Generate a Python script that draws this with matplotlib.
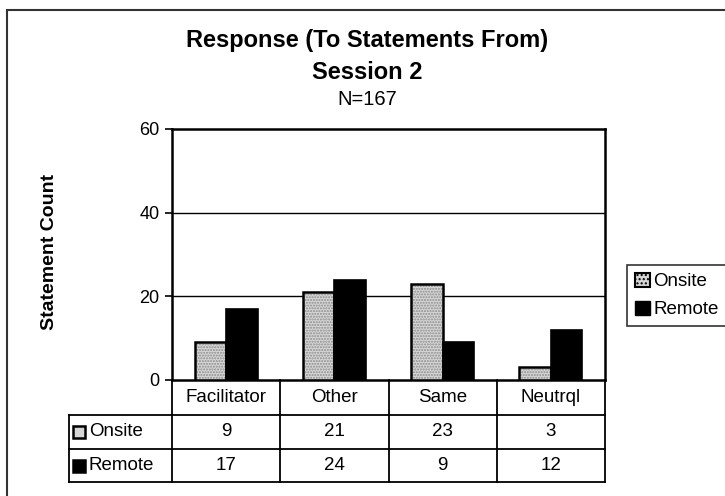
import matplotlib.pyplot as plt
import numpy as np
from matplotlib.patches import Patch, Rectangle

# datos
categories = ["Facilitator", "Other", "Same", "Neutrql"]
series_names = ["Onsite", "Remote"]
onsite = [9, 21, 23, 3]
remote = [17, 24, 9, 12]
y_ticks = [0, 20, 40, 60]

title_lines = ["Response (To Statements From)", "Session 2"]
subtitle = "N=167"
y_label = "Statement Count"

plt.rcParams["font.family"] = ["Liberation Sans", "DejaVu Sans"]

W, H = 725, 496
fig = plt.figure(figsize=(W / 100, H / 100), dpi=100)

# ejes en pixeles de la imagen de referencia
px_left, px_right, px_top, px_bottom = 172, 605, 129, 380
ax = fig.add_axes([
    px_left / W,
    1 - px_bottom / H,
    (px_right - px_left) / W,
    (px_bottom - px_top) / H,
])

x = np.arange(len(categories))
bw = 0.29
onsite_color = "#d6d6d6"

# barras onsite: relleno punteado + contorno negro
ax.bar(x - bw / 2, onsite, bw, color=onsite_color, hatch="......",
       edgecolor="#8c8c8c", linewidth=0, zorder=3)
ax.bar(x - bw / 2, onsite, bw, fill=False, edgecolor="black",
       linewidth=1.8, zorder=4)
ax.bar(x + bw / 2, remote, bw, color="black", edgecolor="black",
       linewidth=1.2, zorder=3)

ax.set_xlim(-0.5, len(categories) - 0.5)
ax.set_ylim(0, 60)
ax.set_yticks(y_ticks)
ax.set_yticklabels([str(t) for t in y_ticks], fontsize=13)
ax.set_xticks([])
ax.tick_params(axis="y", length=5, width=1.2, direction="out", pad=4)
for yv in y_ticks[1:-1]:
    ax.axhline(yv, color="black", linewidth=1.0, zorder=1)
for side in ax.spines.values():
    side.set_linewidth(1.8)
    side.set_color("black")

# tabla de datos debajo del eje
ph = px_bottom - px_top
pw = px_right - px_left
row_edges = [0, -35 / ph, -69 / ph, -102 / ph]
lab_left = (69 - px_left) / pw
tr = ax.transAxes
lw = 1.3
fs = 13.5

# lineas horizontales
for r in row_edges[1:]:
    ax.plot([lab_left, 1], [r, r], color="black", lw=lw, transform=tr, clip_on=False)
# lineas verticales
for i in range(len(categories) + 1):
    xv = i / len(categories)
    ax.plot([xv, xv], [0, row_edges[-1]], color="black", lw=lw, transform=tr, clip_on=False)
ax.plot([lab_left, lab_left], [row_edges[1], row_edges[-1]], color="black", lw=lw,
        transform=tr, clip_on=False)

for i, cat in enumerate(categories):
    xc = (i + 0.5) / len(categories)
    ax.text(xc, (row_edges[0] + row_edges[1]) / 2, cat, ha="center", va="center",
            fontsize=fs, transform=tr)
    ax.text(xc, (row_edges[1] + row_edges[2]) / 2, str(onsite[i]), ha="center",
            va="center", fontsize=fs, transform=tr)
    ax.text(xc, (row_edges[2] + row_edges[3]) / 2, str(remote[i]), ha="center",
            va="center", fontsize=fs, transform=tr)

# etiquetas de fila con su marcador
mk_x = (79 - px_left) / pw
tx_x = (89 - px_left) / pw
for k, (name, fc) in enumerate(zip(series_names, [onsite_color, "black"])):
    yc = (row_edges[k + 1] + row_edges[k + 2]) / 2
    ax.plot([mk_x], [yc], marker="s", markersize=8.5, markerfacecolor=fc,
            markeredgecolor="black", markeredgewidth=1.8, transform=tr, clip_on=False)
    ax.text(tx_x, yc, name, ha="left", va="center", fontsize=fs, transform=tr)

# titulos
cx = 367 / W
fig.text(cx, 1 - 47 / H, title_lines[0], ha="center", va="baseline",
         fontsize=17, fontweight="bold")
fig.text(cx, 1 - 79 / H, title_lines[1], ha="center", va="baseline",
         fontsize=17, fontweight="bold")
fig.text(cx, 1 - 105 / H, subtitle, ha="center", va="baseline", fontsize=14.5)
fig.text(50 / W, 1 - 252 / H, y_label, rotation=90, ha="center", va="center",
         fontsize=14, fontweight="bold")

# leyenda
handles = [
    Patch(facecolor=onsite_color, edgecolor="black", hatch="....", linewidth=1.5),
    Patch(facecolor="black", edgecolor="black"),
]
leg = fig.legend(handles, series_names, loc="upper left",
                 bbox_to_anchor=(627 / W, 1 - 265 / H), fontsize=13.5,
                 frameon=True, fancybox=False, handlelength=0.8, handleheight=0.8,
                 handletextpad=0.2, borderpad=0.4, labelspacing=0.55,
                 borderaxespad=0)
leg.get_frame().set_edgecolor("black")
leg.get_frame().set_linewidth(1.2)

# marco exterior del grafico
fig.patches.append(Rectangle((7 / W, -0.05), 1.1, 1 - 10 / H + 0.05,
                             transform=fig.transFigure, fill=False,
                             edgecolor="#333333", linewidth=1.5))

fig.savefig("out.png", dpi=100)
